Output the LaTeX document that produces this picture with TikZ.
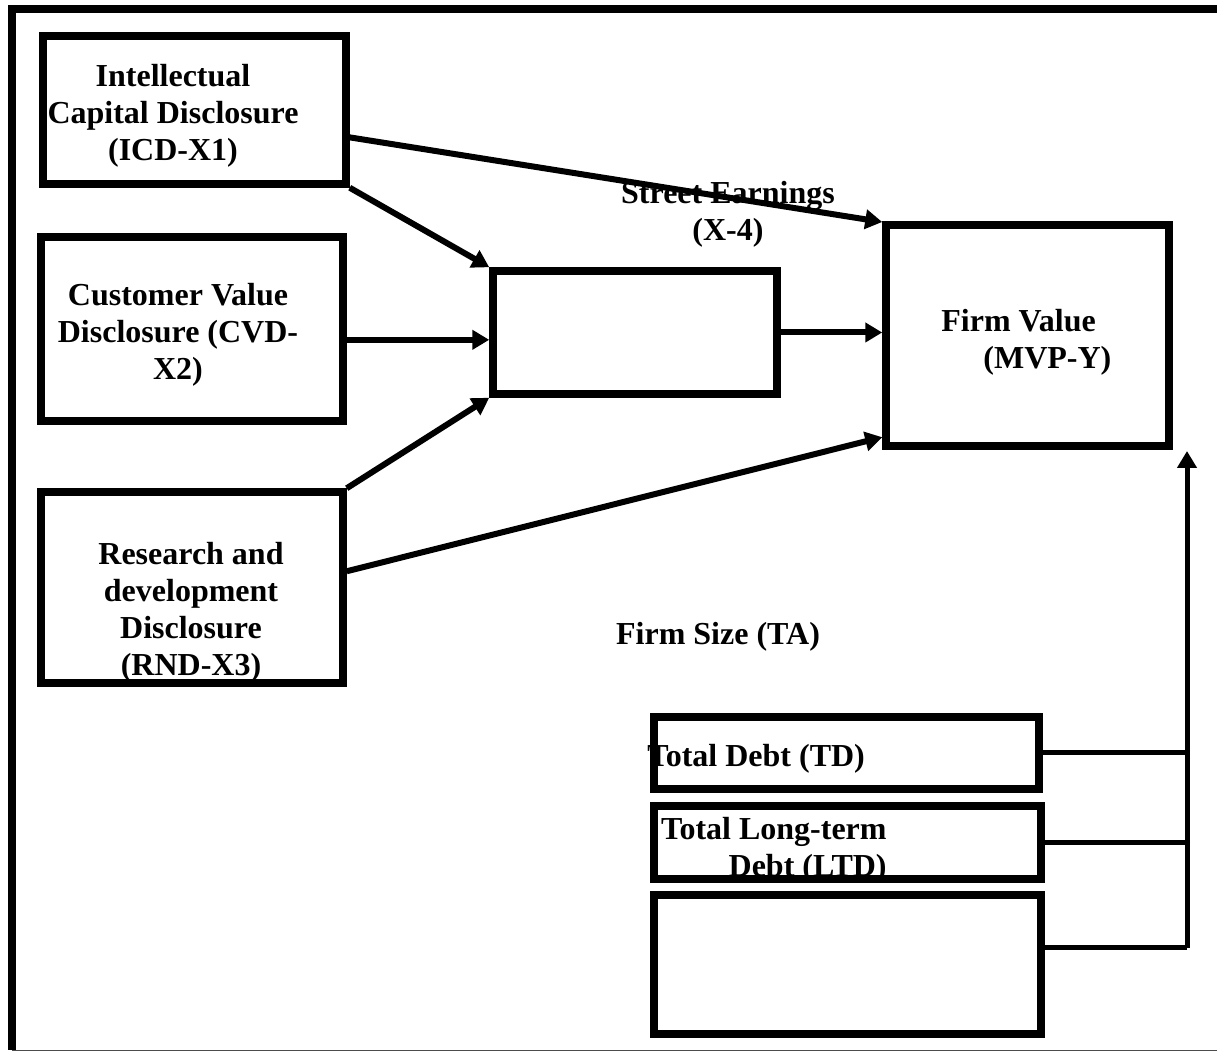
\documentclass[tikz,border=0pt]{standalone}
\usepackage{fontspec}
\setmainfont{Liberation Serif}
\usetikzlibrary{arrows.meta}
\begin{document}
\begin{tikzpicture}[x=0.5pt, y=-0.5pt, >={Triangle[length=8.5pt,width=9.5pt]}]
	\tikzstyle{every node}=[inner sep=0pt, font=\bfseries\fontsize{16}{18.5}\selectfont]
	\tikzstyle{box}=[draw, line width=3.75pt]
	\tikzstyle{link}=[line width=3pt]
	\tikzstyle{bus}=[line width=2.5pt]
	\useasboundingbox (0,0) rectangle (1217,1052);
	\draw [line width=4pt] (1220,9) -- (12,9) -- (12,1050);
	\draw [line width=0.75pt, black!70] (12,1050.5) -- (1217,1050.5);
	\node (icdtext) at (173,116) [align=center] {Intellectual\\Capital Disclosure\\(ICD-X1)};
	\node (cvdtext) at (178,335) [align=center] {Customer Value\\Disclosure (CVD-\\X2)};
	\node (rndtext) at (191,612) [align=center] {Research and\\development\\Disclosure\\(RND-X3)};
	\node (setext) at (728,214) [align=center] {Street Earnings\\(X-4)};
	\node (fvtext) at (941,342) [anchor=west, align=left] {Firm Value\\\hspace*{21pt}(MVP-Y)};
	\node (tatext) at (718,637) {Firm Size (TA)};
	\node (tdtext) at (647,759) [anchor=west] {Total Debt (TD)};
	\node (ltdtext) at (887,850) [anchor=east, align=right] {Total Long-term\\Debt (LTD)};
	\node (icd) at (194.5,110) [box, minimum width=151.5pt, minimum height=74pt] {};
	\node (cvd) at (192,329) [box, minimum width=151pt, minimum height=92pt] {};
	\node (rnd) at (192,587.5) [box, minimum width=151pt, minimum height=95.5pt] {};
	\node (mid) at (635,332.5) [box, minimum width=142pt, minimum height=61.5pt] {};
	\node (fv) at (1027.5,335.5) [box, minimum width=141.5pt, minimum height=110.5pt] {};
	\node (td) at (846.5,753) [box, minimum width=192.5pt, minimum height=36pt] {};
	\node (ltd) at (847.5,842.5) [box, minimum width=193.5pt, minimum height=36.5pt] {};
	\node (box3) at (847.5,964.5) [box, minimum width=193.5pt, minimum height=69.5pt] {};
	\draw [link, ->] (icd.-10) -- (fv.142.8);
	\draw [link, ->] (icd.south east) -- (mid.north west);
	\draw [link, ->] (cvd.-4) -- (cvd.-4 -| mid.west);
	\draw [link, ->] (rnd.north east) -- (mid.south west);
	\draw [link, ->] (rnd.6) -- (fv.215.7);
	\draw [link, ->] (mid.east) -- (mid.east -| fv.west);
	\coordinate (bustop) at (1187,451);
	\coordinate (busbot) at (1187,948);
	\draw [bus] (td.east) -- (td.east -| busbot);
	\draw [bus] (ltd.east) -- (ltd.east -| busbot);
	\draw [bus] (box3.east |- busbot) -- (busbot);
	\draw [bus, ->] (busbot) -- (bustop);
\end{tikzpicture}
\end{document}
